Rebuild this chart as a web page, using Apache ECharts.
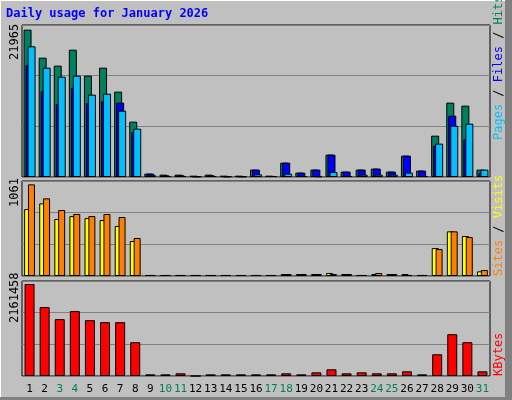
<!DOCTYPE html>
<html>
<head>
<meta charset="utf-8">
<script src="https://cdn.jsdelivr.net/npm/echarts@6/dist/echarts.min.js"></script>
<style>
  html, body { margin: 0; padding: 0; background: #c0c0c0; }
  #chart { width: 512px; height: 400px; }
</style>
</head>
<body>
<div id="chart"></div>
<script>
// 一月每日数据
var days = [];
for (var d = 1; d <= 31; d++) days.push(String(d));
var weekends = ['3', '4', '10', '11', '17', '18', '24', '25', '31'];

var hits = [21955, 17780, 16590, 18970, 15100, 16290, 12720, 8245, 500, 350, 350, 200, 350, 200, 200, 1100,
  200, 2135, 650, 1100, 3330, 800, 1100, 1250, 800, 3180, 950, 6160, 11080, 10630, 1100];
var files = [16640, 12765, 10830, 13310, 10980, 11275, 11076, 6655, 500, 250, 250, 100, 250, 100, 100, 1090,
  150, 2135, 650, 1100, 3330, 800, 1100, 1250, 800, 3180, 950, 4670, 9140, 5610, 600];
var pages = [19470, 16290, 14950, 15100, 12270, 12420, 9880, 7200, 250, 150, 150, 100, 150, 100, 100, 400,
  150, 500, 150, 100, 750, 150, 350, 350, 350, 650, 150, 4970, 7650, 7950, 1100];
var visits = [775, 841, 660, 694, 671, 648, 579, 405, 12, 12, 12, 12, 12, 12, 12, 12,
  12, 23, 23, 23, 35, 23, 12, 23, 23, 23, 12, 324, 517, 463, 54];
var sites = [1061, 899, 764, 718, 694, 718, 683, 440, 12, 12, 12, 12, 12, 12, 12, 12,
  12, 23, 23, 23, 23, 23, 12, 35, 23, 12, 12, 312, 517, 451, 69];
var kbytes = [2161458, 1619000, 1336000, 1525000, 1313000, 1265000, 1265000, 794000, 39000, 39000, 63000, 0,
  39000, 39000, 39000, 39000, 39000, 63000, 39000, 86000, 157000, 63000, 86000, 63000, 63000, 110000, 39000,
  511000, 982000, 794000, 110000];

var max1 = 22650, max2 = 1100, max3 = 2232000;

var chart = echarts.init(document.getElementById('chart'));
var font = 'DejaVu Sans Mono';

function grid(top, h) {
  return { left: 22, right: 22, top: top, height: h, show: true, backgroundColor: '#c0c0c0',
    borderColor: '#000', borderWidth: 1 };
}
function xAxis(i, labels) {
  return {
    type: 'category', gridIndex: i, data: days,
    axisLine: { show: false }, axisTick: { show: false },
    axisLabel: labels ? {
      show: true, interval: 0, fontFamily: font, fontSize: 11, margin: 8,
      color: function (v) { return weekends.indexOf(v) >= 0 ? '#00805a' : '#000'; }
    } : { show: false }
  };
}
function yAxis(i, max) {
  return {
    type: 'value', gridIndex: i, min: 0, max: max, interval: max / 3,
    axisLabel: { show: false }, axisLine: { show: false }, axisTick: { show: false },
    splitLine: { lineStyle: { color: '#808080', width: 1 } }
  };
}
function bar(name, data, i, color, w, gap) {
  return {
    name: name, type: 'bar', xAxisIndex: i, yAxisIndex: i, data: data,
    barWidth: w, barGap: gap, animation: false, silent: true,
    itemStyle: { color: color, borderColor: '#000', borderWidth: 1 }
  };
}

var option = {
  backgroundColor: '#c0c0c0',
  animation: false,
  grid: [grid(25, 152), grid(181, 95), grid(281, 95)],
  xAxis: [xAxis(0, false), xAxis(1, false), xAxis(2, true)],
  yAxis: [yAxis(0, max1), yAxis(1, max2), yAxis(2, max3)],
  series: [
    bar('Hits', hits, 0, '#008060', 8, '-75%'),
    bar('Files', files, 0, '#0000ff', 8, '-75%'),
    bar('Pages', pages, 0, '#00c0ff', 8, '-75%'),
    bar('Visits', visits, 1, '#ffff00', 7, '-45%'),
    bar('Sites', sites, 1, '#ff8000', 7, '-45%'),
    bar('KBytes', kbytes, 2, '#ff0000', 10, '0%')
  ],
  graphic: [
    { type: 'rect', shape: { x: 0.5, y: 0.5, width: 505, height: 397 }, silent: true, z: -1,
      style: { fill: 'none', stroke: '#ffffff', lineWidth: 1 } },
    { type: 'rect', shape: { x: 505, y: 0, width: 7, height: 400 }, silent: true,
      style: { fill: '#808080' } },
    { type: 'rect', shape: { x: 0, y: 397, width: 512, height: 3 }, silent: true,
      style: { fill: '#808080' } },
    { type: 'text', left: 6, top: 8, silent: true,
      style: { text: 'Daily usage for January 2026', fill: '#0000ff', font: 'bold 12px ' + font } },
    { type: 'text', x: 9, y: 60, rotation: Math.PI / 2, silent: true,
      style: { text: '21965', fill: '#000', font: '12px ' + font, align: 'left', verticalAlign: 'top' } },
    { type: 'text', x: 9, y: 207, rotation: Math.PI / 2, silent: true,
      style: { text: '1061', fill: '#000', font: '12px ' + font, align: 'left', verticalAlign: 'top' } },
    { type: 'text', x: 9, y: 323, rotation: Math.PI / 2, silent: true,
      style: { text: '2161458', fill: '#000', font: '12px ' + font, align: 'left', verticalAlign: 'top' } },
    { type: 'text', x: 493, y: 140, rotation: Math.PI / 2, silent: true,
      style: {
        text: '{p|Pages}{s| / }{f|Files}{s| / }{h|Hits}', font: '12px ' + font, align: 'left', verticalAlign: 'top',
        rich: { p: { fill: '#00c0ff', font: '12px ' + font }, s: { fill: '#000', font: '12px ' + font },
          f: { fill: '#0000ff', font: '12px ' + font }, h: { fill: '#008060', font: '12px ' + font } }
      } },
    { type: 'text', x: 493, y: 276, rotation: Math.PI / 2, silent: true,
      style: {
        text: '{a|Sites}{s| / }{b|Visits}', font: '12px ' + font, align: 'left', verticalAlign: 'top',
        rich: { a: { fill: '#ff8000', font: '12px ' + font }, s: { fill: '#000', font: '12px ' + font },
          b: { fill: '#ffff00', font: '12px ' + font } }
      } },
    { type: 'text', x: 493, y: 376, rotation: Math.PI / 2, silent: true,
      style: { text: 'KBytes', fill: '#ff0000', font: '12px ' + font, align: 'left', verticalAlign: 'top' } }
  ]
};
chart.setOption(option);
</script>
</body>
</html>
